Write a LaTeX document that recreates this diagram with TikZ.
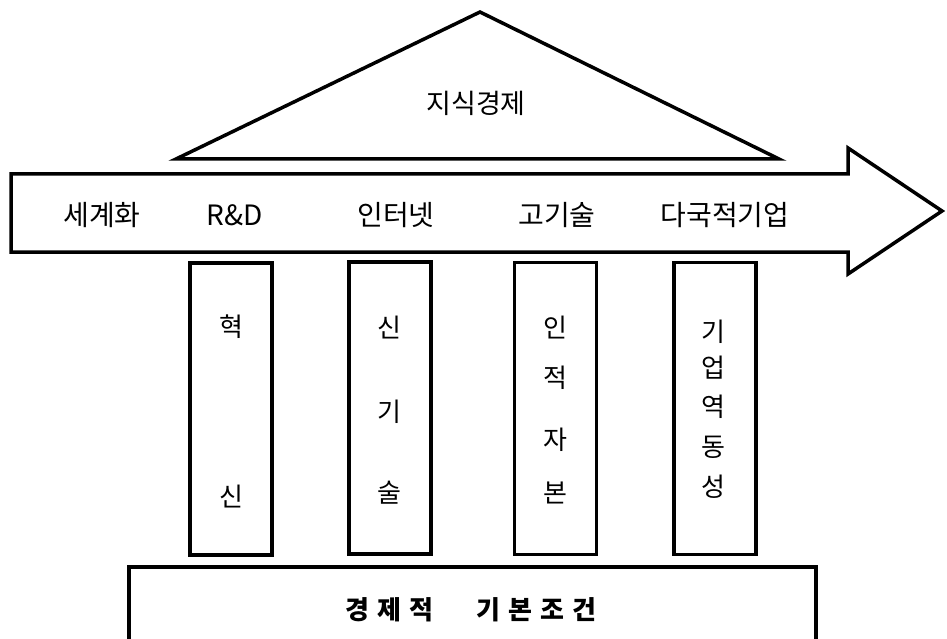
\documentclass[tikz,border=0pt]{standalone}
\usepackage{fontspec}
\newfontfamily\kr{Noto Sans CJK KR}
\begin{document}
\begin{tikzpicture}[x=1pt,y=-1pt,
  outline/.style={draw=black,line width=3.5pt,line join=miter},
  pillar/.style={outline,minimum width=82pt,minimum height=292pt,inner sep=0pt},
  lbl/.style={font=\kr\fontsize{28}{30}\selectfont,inner sep=0pt,anchor=center},
  rlbl/.style={font=\kr\fontsize{27}{30}\selectfont,inner sep=0pt,anchor=center},
  plbl/.style={font=\kr\fontsize{26}{28}\selectfont,inner sep=0pt,anchor=center},
  btxt/.style={font=\kr\bfseries\fontsize{26}{28}\selectfont,inner sep=0pt,anchor=center}]
\useasboundingbox (0,0) rectangle (947,639);
\clip (0,0) rectangle (947,639);
\fill[white] (0,0) rectangle (947,639);
% roof
\coordinate (apex) at (480,12);
\coordinate (bl) at (176,159);
\coordinate (br) at (779,159);
\draw[outline] (bl) -- (apex) -- (br) -- cycle;
\node[rlbl] (roof) at (476,103) {지식경제};
% arrow
\coordinate (a1) at (11,174);
\coordinate (a2) at (848,174);
\coordinate (a3) at (848,148);
\coordinate (a4) at (942,211);
\coordinate (a5) at (848,274);
\coordinate (a6) at (848,252);
\coordinate (a7) at (11,252);
\draw[outline] (a1) -- (a2) -- (a3) -- (a4) -- (a5) -- (a6) -- (a7) -- cycle;
\node[lbl] (t1) at (102,215) {세계화};
\node[lbl] (t2) at (235,215) {R\&D};
\node[lbl] (t3) at (396,215) {인터넷};
\node[lbl] (t4) at (557,215) {고기술};
\node[lbl] (t5) at (725,215) {다국적기업};
% pillars
\node[pillar] (p1) at (231,409) {};
\node[pillar] (p2) at (390,408) {};
\node[pillar] (p3) at (555.5,408.5) {};
\node[pillar] (p4) at (715,408.5) {};
\node[plbl] (p1a) at (231,327) {혁};
\node[plbl] (p1b) at (231,497) {신};
\node[plbl] (p2a) at (389,328) {신};
\node[plbl] (p2b) at (389,412) {기};
\node[plbl] (p2c) at (389,493) {술};
\node[plbl] (p3a) at (555,328) {인};
\node[plbl] (p3b) at (555,378) {적};
\node[plbl] (p3c) at (555,440) {자};
\node[plbl] (p3d) at (555,493) {본};
\node[plbl] (p4a) at (713,332) {기};
\node[plbl] (p4b) at (713,368) {업};
\node[plbl] (p4c) at (713,407) {역};
\node[plbl] (p4d) at (713,447) {동};
\node[plbl] (p4e) at (713,487) {성};
% base
\node[outline,minimum width=687pt,minimum height=84pt,inner sep=0pt] (base) at (472.5,609) {};
\node[btxt] (btext) at (471,610) {경\kern8pt제\kern8pt적\kern43pt기\kern8pt본\kern8pt조\kern8pt건};
\end{tikzpicture}
\end{document}
